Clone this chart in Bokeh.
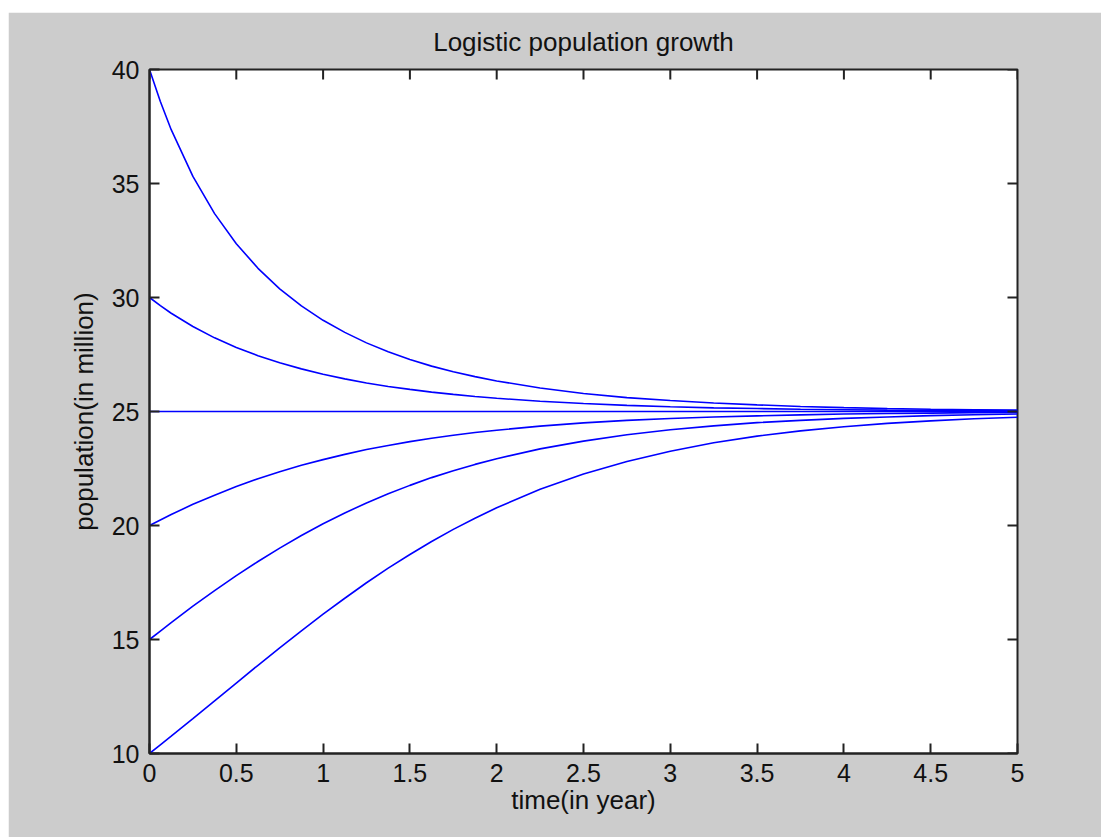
from math import pi
from bokeh.plotting import figure
from bokeh.models import Range1d, FixedTicker, Spacer
from bokeh.layouts import column, row
from bokeh.embed import file_html
from bokeh.resources import INLINE

# time (in year)
t = [0, 0.0625, 0.125, 0.25, 0.375, 0.5, 0.625, 0.75, 0.875, 1, 1.125, 1.25, 1.375,
     1.5, 1.625, 1.75, 1.875, 2, 2.25, 2.5, 2.75, 3, 3.25, 3.5, 3.75, 4, 4.25,
     4.5, 4.75, 5]

# population (in million), one series per starting value
pop_40 = [40, 38.60, 37.36, 35.31, 33.68, 32.36, 31.28, 30.38, 29.63, 29.00, 28.47,
          28.01, 27.62, 27.28, 26.99, 26.74, 26.53, 26.34, 26.03, 25.79, 25.61, 25.48,
          25.37, 25.29, 25.22, 25.17, 25.13, 25.10, 25.08, 25.06]
pop_30 = [30, 29.64, 29.31, 28.73, 28.23, 27.81, 27.45, 27.14, 26.87, 26.63, 26.43,
          26.25, 26.10, 25.97, 25.85, 25.75, 25.66, 25.58, 25.45, 25.35, 25.27, 25.21,
          25.16, 25.13, 25.10, 25.08, 25.06, 25.05, 25.04, 25.03]
pop_25 = [25] * 30
pop_20 = [20, 20.24, 20.48, 20.93, 21.33, 21.71, 22.05, 22.36, 22.64, 22.89, 23.12,
          23.33, 23.51, 23.68, 23.83, 23.96, 24.08, 24.18, 24.36, 24.50, 24.61, 24.69,
          24.76, 24.81, 24.85, 24.89, 24.91, 24.93, 24.95, 24.96]
pop_15 = [15, 15.37, 15.74, 16.46, 17.14, 17.80, 18.42, 19.01, 19.56, 20.08, 20.55,
          20.99, 21.39, 21.76, 22.10, 22.40, 22.68, 22.93, 23.36, 23.70, 23.98, 24.20,
          24.37, 24.51, 24.61, 24.70, 24.76, 24.82, 24.86, 24.89]
pop_10 = [10, 10.38, 10.76, 11.53, 12.31, 13.09, 13.87, 14.63, 15.38, 16.11, 16.81,
          17.49, 18.13, 18.73, 19.30, 19.83, 20.32, 20.78, 21.59, 22.26, 22.81, 23.26,
          23.63, 23.92, 24.15, 24.33, 24.48, 24.59, 24.68, 24.75]

x_ticks = [0, 0.5, 1, 1.5, 2, 2.5, 3, 3.5, 4, 4.5, 5]
x_tick_labels = ["0", "0.5", "1", "1.5", "2", "2.5", "3", "3.5", "4", "4.5", "5"]
y_ticks = [10, 15, 20, 25, 30, 35, 40]
y_tick_labels = ["10", "15", "20", "25", "30", "35", "40"]
title_text = "Logistic population growth"

FONT = "Liberation Sans"
AXIS_COLOR = "#222222"
TEXT_COLOR = "#111111"

X_MIN, X_MAX = 0, 5
Y_MIN, Y_MAX = 10, 40

p = figure(output_backend="svg", toolbar_location=None,
           frame_width=868, frame_height=684,
           min_border_left=141, min_border_top=57,
           min_border_right=84, min_border_bottom=84,
           x_range=Range1d(X_MIN, X_MAX), y_range=Range1d(Y_MIN, Y_MAX),
           title=title_text)

p.border_fill_color = "#cccccc"
p.background_fill_color = "white"
p.outline_line_color = AXIS_COLOR
p.outline_line_width = 2
p.xgrid.visible = False
p.ygrid.visible = False

p.title.align = "center"
p.title.text_font = FONT
p.title.text_font_size = "26px"
p.title.text_font_style = "normal"
p.title.text_color = TEXT_COLOR
p.title.standoff = 25

for series in [pop_40, pop_30, pop_25, pop_20, pop_15, pop_10]:
    p.line(t, series, line_color="#0000ff", line_width=1.6)

def style_axis(ax, ticks, labels):
    ax.ticker = FixedTicker(ticks=ticks)
    ax.major_label_overrides = {tk: lb for tk, lb in zip(ticks, labels)}
    ax.minor_tick_line_color = None
    ax.major_tick_in = 10
    ax.major_tick_out = 0
    ax.major_tick_line_color = AXIS_COLOR
    ax.major_tick_line_width = 2
    ax.axis_line_color = AXIS_COLOR
    ax.axis_line_width = 2
    ax.major_label_text_font = FONT
    ax.major_label_text_font_size = "25px"
    ax.major_label_text_color = TEXT_COLOR
    ax.axis_label_text_font = FONT
    ax.axis_label_text_font_size = "26px"
    ax.axis_label_text_font_style = "normal"
    ax.axis_label_text_color = TEXT_COLOR

xa = p.xaxis[0]
style_axis(xa, x_ticks, x_tick_labels)
xa.axis_label = "time(in year)"
xa.major_label_standoff = 10
xa.axis_label_standoff = 0

ya = p.yaxis[0]
style_axis(ya, y_ticks, y_tick_labels)
ya.axis_label = "population(in million)"
ya.major_label_standoff = 10
ya.axis_label_standoff = 10

# mirrored inward ticks on the top and right edges of the box
p.ray(x=x_ticks, y=[Y_MAX] * len(x_ticks), length=10, length_units="screen",
      angle=-pi / 2, line_color=AXIS_COLOR, line_width=2)
p.ray(x=[X_MAX] * len(y_ticks), y=y_ticks, length=10, length_units="screen",
      angle=pi, line_color=AXIS_COLOR, line_width=2)

page = column(Spacer(height=12, width=1093), row(Spacer(width=8, height=825), p))

open("out.html", "w").write(file_html(page, INLINE))
